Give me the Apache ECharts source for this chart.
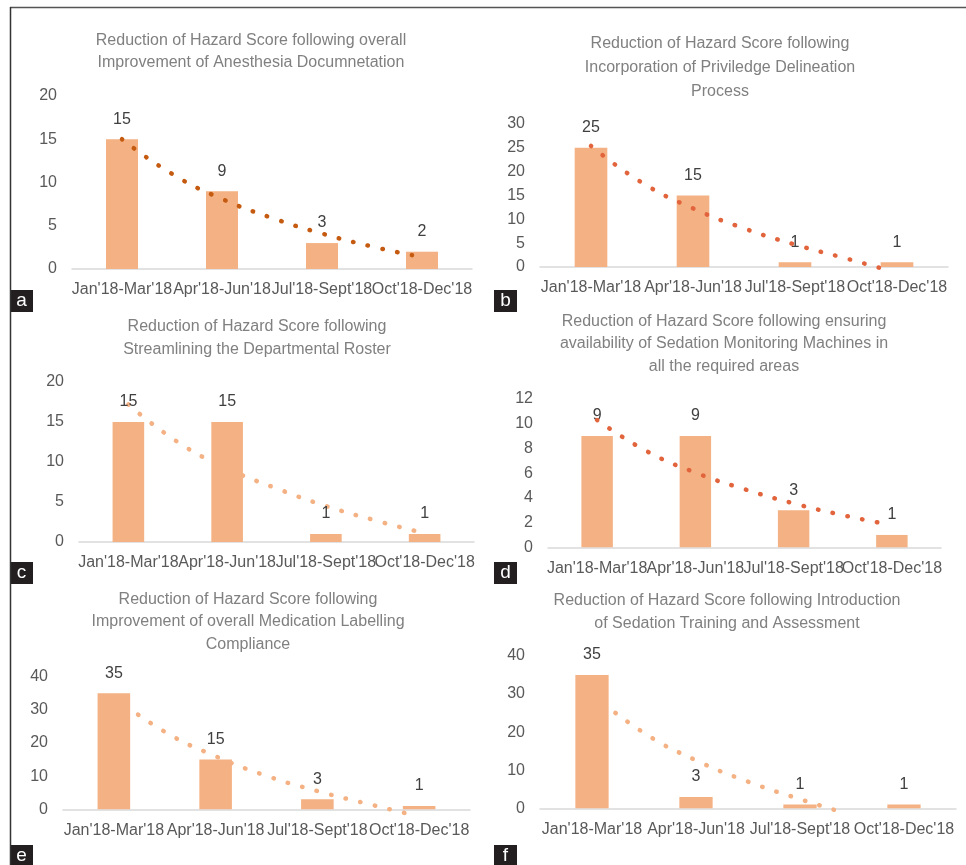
<!DOCTYPE html>
<html>
<head>
<meta charset="utf-8">
<script src="https://cdn.jsdelivr.net/npm/echarts@6/dist/echarts.min.js"></script>
<style>
  html, body { margin: 0; padding: 0; background: #fff; }
  #main { width: 966px; height: 865px; }
</style>
</head>
<body>
<div id="main"></div>
<script>
// quarters on the x axis
var categories = ["Jan'18-Mar'18", "Apr'18-Jun'18", "Jul'18-Sept'18", "Oct'18-Dec'18"];

// hazard scores per panel
var scoresA = [15, 9, 3, 2];
var scoresB = [25, 15, 1, 1];
var scoresC = [15, 15, 1, 1];
var scoresD = [9, 9, 3, 1];
var scoresE = [35, 15, 3, 1];
var scoresF = [35, 3, 1, 1];

// dotted trend lines at these category positions
var trendPos = [0, 0.5, 1, 1.5, 2, 2.5, 2.9];
var trendA = [15.0, 11.0, 8.1, 5.9, 4.1, 2.6, 1.6];
var trendB = [25.4, 17.7, 12.3, 8.1, 4.7, 1.8, -0.6];
var trendC = [17.2, 12.5, 9.2, 6.7, 4.5, 2.7, 1.4];
var trendD = [10.3, 7.8, 6.05, 4.7, 3.55, 2.6, 1.95];
var trendE = [33.9, 23.4, 16.0, 10.1, 5.5, 1.6, -1.4];
var trendF = [30.0, 19.8, 12.6, 7.0, 2.4, -1.0];

// y axis ranges
var yMax = [20, 30, 20, 12, 40, 40];
var yStep = [5, 5, 5, 2, 10, 10];

var titles = [
	'Reduction of Hazard Score following overall\nImprovement of Anesthesia Documnetation',
	'Reduction of Hazard Score following\nIncorporation of Priviledge Delineation\nProcess',
	'Reduction of Hazard Score following\nStreamlining the Departmental Roster',
	'Reduction of Hazard Score following ensuring\navailability of Sedation Monitoring Machines in\nall the required areas',
	'Reduction of Hazard Score following\nImprovement of overall Medication Labelling\nCompliance',
	'Reduction of Hazard Score following Introduction\nof Sedation Training and Assessment'
];
var letters = ['a', 'b', 'c', 'd', 'e', 'f'];

var scores = [scoresA, scoresB, scoresC, scoresD, scoresE, scoresF];
var trends = [trendA, trendB, trendC, trendD, trendE, trendF];

// layout of each panel
var grids = [
	{ left: 72, top: 96, width: 400, height: 173 },
	{ left: 540, top: 124, width: 408, height: 143 },
	{ left: 79, top: 382, width: 395, height: 160 },
	{ left: 548, top: 399, width: 393, height: 148.3 },
	{ left: 63, top: 676.7, width: 407, height: 132.6 },
	{ left: 540, top: 656, width: 416, height: 152.3 }
];
var titlePos = [
	{ x: 251, y: 30, lh: 22 },
	{ x: 720, y: 31.5, lh: 24 },
	{ x: 257, y: 315.5, lh: 22.6 },
	{ x: 724, y: 310, lh: 22.5 },
	{ x: 248, y: 588, lh: 22.5 },
	{ x: 727, y: 589, lh: 23 }
];
var letterBox = [[10, 290], [494, 290], [10, 562], [494, 562], [10, 845], [494, 845]];
var trendColor = ['#C55A11', '#E2643C', '#F4B183', '#E2643C', '#F4B183', '#F4B183'];
var trendOnTop = [true, true, false, true, false, false];

var chart = echarts.init(document.getElementById('main'));

var option = {
	backgroundColor: '#fff',
	animation: false,
	title: [],
	grid: [],
	xAxis: [],
	yAxis: [],
	series: [],
	graphic: []
};

for (var i = 0; i < 6; i++) {
	option.title.push({
		text: titles[i],
		left: titlePos[i].x,
		top: titlePos[i].y,
		textAlign: 'center',
		padding: 0,
		textStyle: {
			fontFamily: 'Liberation Sans, Arial, sans-serif',
			fontSize: 16,
			fontWeight: 'normal',
			color: '#808080',
			lineHeight: titlePos[i].lh
		}
	});
	option.grid.push(grids[i]);

	// category axis
	option.xAxis.push({
		type: 'category',
		gridIndex: i,
		data: categories,
		axisLine: { lineStyle: { color: '#D9D9D9', width: 1.5 } },
		axisTick: { show: false },
		axisLabel: {
			interval: 0,
			margin: 13,
			color: '#595959',
			fontSize: 16,
			fontFamily: 'Liberation Sans, Arial, sans-serif'
		}
	});
	// hidden value axis used to place the trend line
	option.xAxis.push({
		type: 'value',
		gridIndex: i,
		min: -0.5,
		max: 3.5,
		show: false
	});
	option.yAxis.push({
		type: 'value',
		gridIndex: i,
		min: 0,
		max: yMax[i],
		interval: yStep[i],
		axisLine: { show: false },
		axisTick: { show: false },
		splitLine: { show: false },
		axisLabel: {
			margin: 15,
			color: '#595959',
			fontSize: 16,
			fontFamily: 'Liberation Sans, Arial, sans-serif'
		}
	});

	option.series.push({
		type: 'bar',
		xAxisIndex: 2 * i,
		yAxisIndex: i,
		data: scores[i],
		barWidth: '32%',
		z: 2,
		itemStyle: { color: '#F4B183' },
		label: {
			show: true,
			position: 'top',
			distance: 12,
			color: '#404040',
			fontSize: 16,
			fontFamily: 'Liberation Sans, Arial, sans-serif'
		}
	});

	var pts = [];
	for (var k = 0; k < trends[i].length; k++) {
		pts.push([trendPos[k], trends[i][k]]);
	}
	if (i === 5) {
		// last trend point of panel f sits a bit earlier
		pts[pts.length - 1][0] = 2.4;
	}
	option.series.push({
		type: 'line',
		xAxisIndex: 2 * i + 1,
		yAxisIndex: i,
		data: pts,
		smooth: true,
		symbol: 'none',
		clip: false,
		silent: true,
		z: trendOnTop[i] ? 3 : 1,
		lineStyle: {
			color: trendColor[i],
			width: 4.5,
			type: [0.5, 14.5],
			cap: 'round'
		}
	});

	// panel letter
	option.graphic.push({
		type: 'rect',
		shape: { x: letterBox[i][0], y: letterBox[i][1], width: 23, height: 22 },
		style: { fill: '#231F20' },
		z: 10
	});
	option.graphic.push({
		type: 'text',
		x: letterBox[i][0] + 11.5,
		y: letterBox[i][1] + 11,
		style: {
			text: letters[i],
			fill: '#fff',
			font: '19px Liberation Sans, Arial, sans-serif',
			textAlign: 'center',
			textVerticalAlign: 'middle'
		},
		z: 11
	});
}

// frame lines on top and left
option.graphic.push({
	type: 'line',
	shape: { x1: 10, y1: 7.5, x2: 966, y2: 7.5 },
	style: { stroke: '#555', lineWidth: 1.5 },
	z: 10
});
option.graphic.push({
	type: 'line',
	shape: { x1: 10.5, y1: 7, x2: 10.5, y2: 865 },
	style: { stroke: '#333', lineWidth: 1.5 },
	z: 10
});

chart.setOption(option);
</script>
</body>
</html>
